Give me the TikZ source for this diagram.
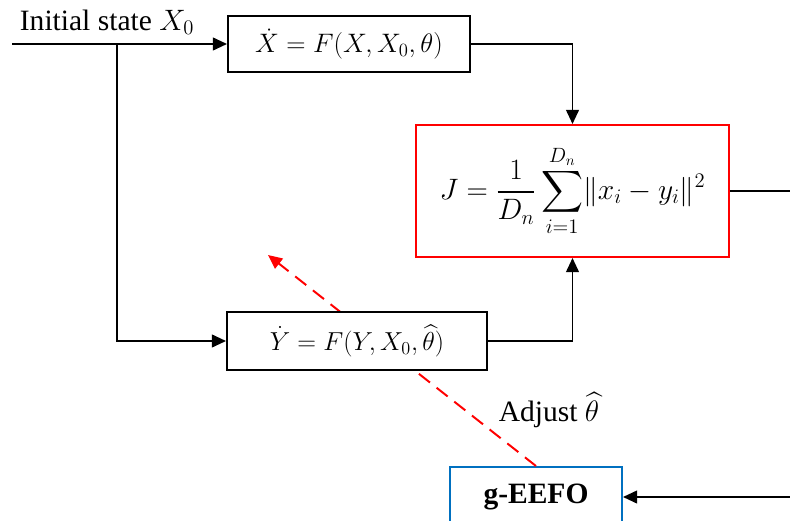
\RequirePackage{fix-cm}
\documentclass[tikz,border=0pt]{standalone}
\usepackage{amsmath}
\usepackage{fontspec}
\setmainfont{Liberation Serif}
\usetikzlibrary{arrows.meta}

\begin{document}
\begin{tikzpicture}[
  font=\fontsize{21}{25}\selectfont,
  line width=1.4pt,
  >={Triangle[length=10pt,width=9pt]},
  block/.style={draw, fill=white, rectangle, minimum height=1.4cm, inner sep=0pt},
  adjust/.style={draw=red, dash pattern=on 10pt off 6pt, ->}
]
\useasboundingbox (0,0) rectangle (19.75,-13.025);

% optimiser
\node[block, draw={rgb,255:red,0;green,112;blue,192}, minimum width=4.3cm, minimum height=1.5cm] (eefo) at (13.4,-12.425)
  {\bfseries g-EEFO};
\coordinate (target) at (6.7,-6.375);
\draw[adjust] (eefo.north) -- (target);

% model boxes
\node[block, minimum width=6.05cm, font=\fontsize{19}{23}\selectfont] (xdot) at (8.725,-1.1)
  {$\dot{X} = F(X, X_0, \theta)$};
\node[block, minimum width=6.5cm, minimum height=1.45cm, font=\fontsize{18.5}{22}\selectfont] (ydot) at (8.925,-8.525)
  {$\dot{Y} = F(Y, X_0, \widehat{\theta})$};

% cost function
\node[block, draw=red, minimum width=7.825cm, minimum height=3.3cm, font=\fontsize{21}{25}\selectfont] (cost) at (14.3125,-4.775)
  {$\displaystyle J = \frac{1}{D_n}\sum_{i=1}^{D_n}\lVert x_i - y_i \rVert^2$};

% input
\coordinate (in) at (0.3,-1.1);
\coordinate (split) at (2.925,-1.1);
\node (inlabel) at (2.675,-0.55) {Initial state $X_0$};

% free ends on the right
\coordinate (out) at (20,-4.775);
\coordinate (back) at (20,-12.425);

\draw[->] (in) -- (xdot);
\draw[->] (split) |- (ydot);
\draw[->] (xdot) -| (cost.north);
\draw[->] (ydot) -| (cost.south);
\draw (cost) -- (out);
\draw[->] (back) -- (eefo);
\node (adjlabel) at (13.725,-10.25) {Adjust $\widehat{\theta}$};
\end{tikzpicture}
\end{document}
